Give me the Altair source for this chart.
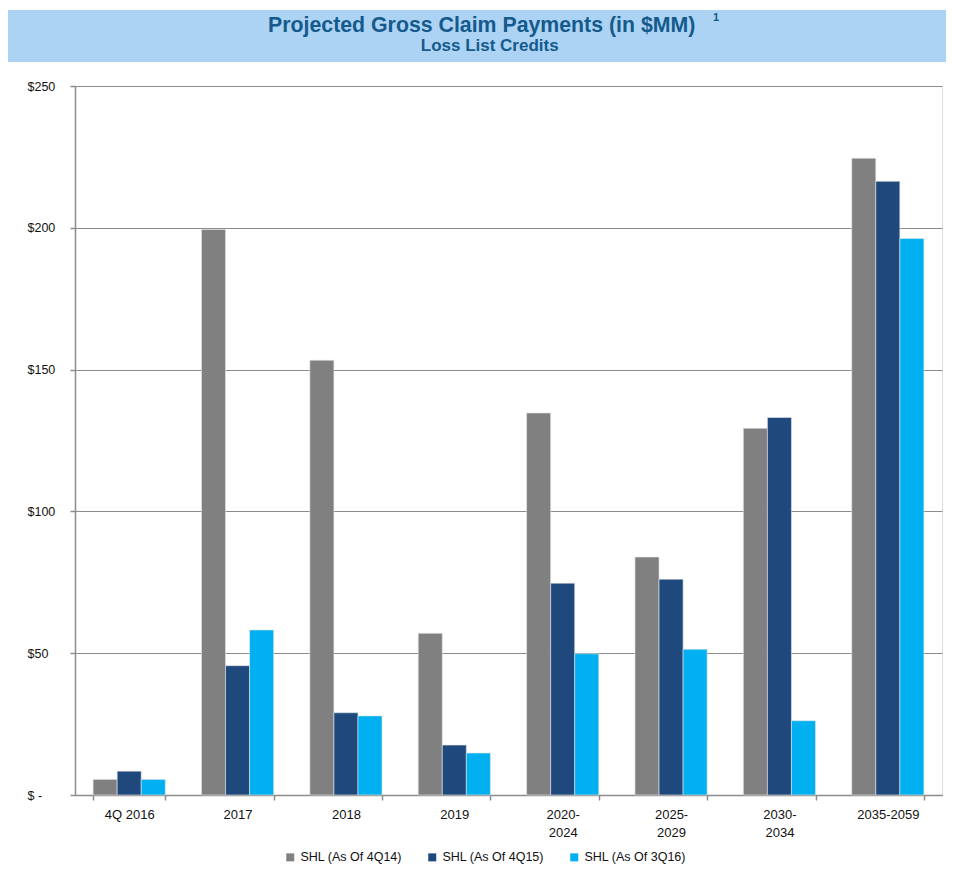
import altair as alt
import pandas as pd

categories = ["4Q 2016", "2017", "2018", "2019", "2020-2024", "2025-2029", "2030-2034", "2035-2059"]
series = ["SHL (As Of 4Q14)", "SHL (As Of 4Q15)", "SHL (As Of 3Q16)"]
shl_4q14 = [5.5, 199.4, 153.3, 57.0, 134.7, 83.9, 129.3, 224.5]
shl_4q15 = [8.4, 45.6, 29.0, 17.6, 74.7, 76.1, 133.1, 216.4]
shl_3q16 = [5.5, 58.2, 27.9, 14.8, 49.8, 51.4, 26.2, 196.2]
colors = ["#808080", "#1f497d", "#00b0f0"]
y_ticks = [0, 50, 100, 150, 200, 250]
label_lines = {"2020-2024": ["2020-", "2024"], "2025-2029": ["2025-", "2029"], "2030-2034": ["2030-", "2034"]}

title_main = "Projected Gross Claim Payments (in $MM)"
title_sup = "1"
title_sub = "Loss List Credits"

rows = []
for vals, s in zip([shl_4q14, shl_4q15, shl_3q16], series):
    for c, v in zip(categories, vals):
        rows.append({"category": c, "series": s, "value": v})
df = pd.DataFrame(rows)

expr = "datum.label"
for k, v in label_lines.items():
    expr = f"datum.label == '{k}' ? ['{v[0]}', '{v[1]}'] : (" + expr + ")"

font = "Liberation Sans"
tcolor = "#155a8c"

bars = alt.Chart(df).mark_bar(stroke="#e6e6e6", strokeWidth=0.6).encode(
    x=alt.X("category:N", sort=categories,
            scale=alt.Scale(paddingInner=0.334, paddingOuter=0.167),
            axis=alt.Axis(title=None, labelAngle=0, labelExpr=expr, tickBand="extent",
                          domainColor="#8c8c8c", domainWidth=1.5, tickColor="#8c8c8c",
                          tickWidth=1.5, tickSize=5, labelPadding=8, labelFont=font,
                          labelFontSize=13, labelColor="#111", labelLineHeight=18,
                          grid=False)),
    xOffset=alt.XOffset("series:N", sort=series, scale=alt.Scale(paddingInner=0, paddingOuter=0)),
    y=alt.Y("value:Q", scale=alt.Scale(domain=[0, 250], nice=False),
            axis=alt.Axis(title=None, values=y_ticks,
                          labelExpr="datum.value == 0 ? '$ -' : '$' + datum.value",
                          labelAlign="left", labelPadding=43, tickSize=5,
                          tickColor="#8c8c8c", tickWidth=1.5, domainColor="#8c8c8c",
                          domainWidth=1.5, gridColor="#8c8c8c", gridWidth=1.2,
                          labelFont=font, labelFontSize=12.5, labelColor="#111")),
    color=alt.Color("series:N", sort=series, scale=alt.Scale(domain=series, range=colors),
                    legend=alt.Legend(title=None, orient="none", legendX=209, legendY=765,
                                      padding=0, direction="horizontal", symbolType="square",
                                      symbolSize=64, symbolStrokeWidth=0, labelOffset=4,
                                      columnPadding=24, labelFont=font, labelFontSize=12.5,
                                      labelColor="#111")),
)

band = alt.Chart(pd.DataFrame({"a": [0]})).mark_rect(color="#acd3f4").encode(
    x=alt.value(-70), x2=alt.value(880), y=alt.value(-76), y2=alt.value(-24))

t_main = alt.Chart(pd.DataFrame({"t": [title_main]})).mark_text(
    font=font, fontSize=21.3, fontWeight="bold", color=tcolor, align="center",
    baseline="alphabetic").encode(x=alt.value(406.7), y=alt.value(-54), text="t:N")
t_sup = alt.Chart(pd.DataFrame({"t": [title_sup]})).mark_text(
    font=font, fontSize=11, fontWeight="bold", color=tcolor, align="center",
    baseline="alphabetic").encode(x=alt.value(641), y=alt.value(-65), text="t:N")
t_sub = alt.Chart(pd.DataFrame({"t": [title_sub]})).mark_text(
    font=font, fontSize=17, fontWeight="bold", color=tcolor, align="center",
    baseline="alphabetic").encode(x=alt.value(414.7), y=alt.value(-35.5), text="t:N")

chart = alt.layer(band, t_main, t_sup, t_sub, bars).properties(
    width=867, height=709, autosize=alt.AutoSizeParams(type="none"),
    padding={"left": 67, "top": 78, "right": 4, "bottom": 72},
).configure_view(stroke=None).configure(background="white")

chart.save("out.html", embed_options={"renderer": "svg", "actions": False})
